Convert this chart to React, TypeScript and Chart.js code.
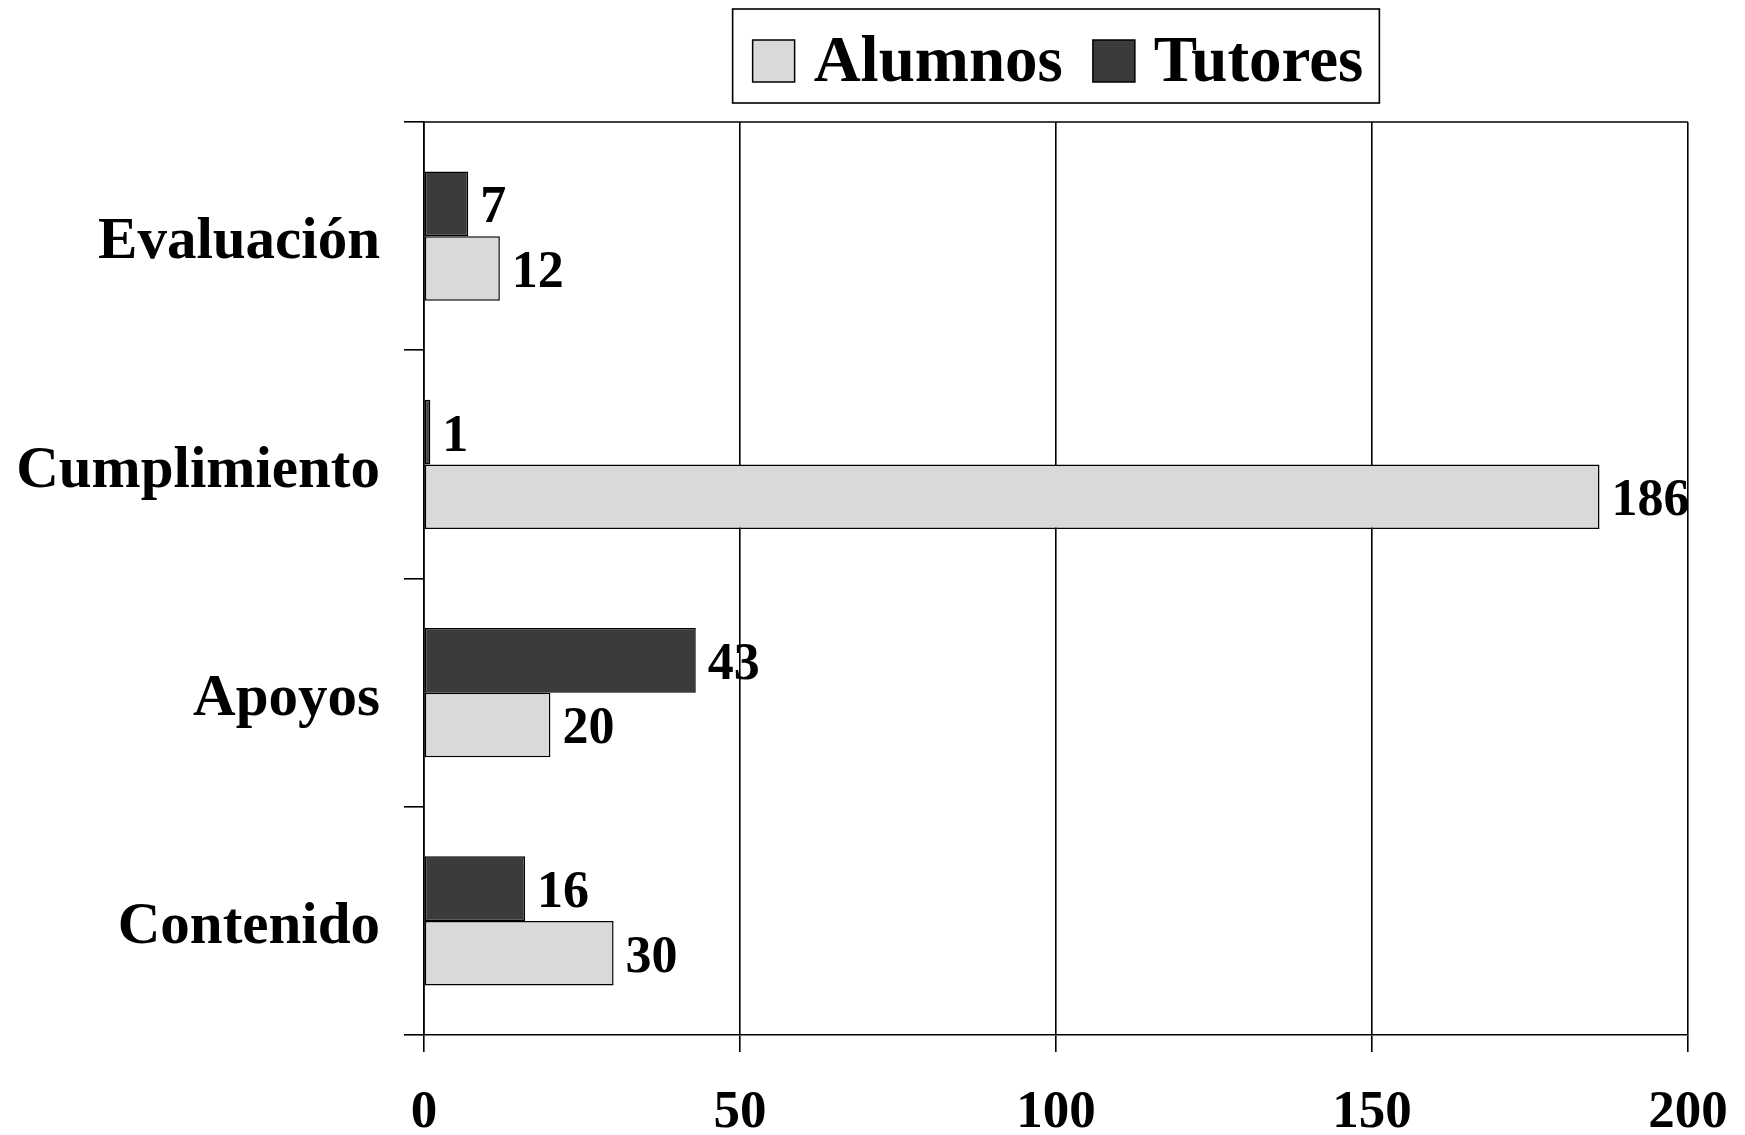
import React, { useEffect, useRef } from "react";
import { Chart, registerables } from "chart.js";
Chart.register(...registerables);

const categories = ["Evaluación", "Cumplimiento", "Apoyos", "Contenido"];
const alumnos = [12, 186, 20, 30];
const tutores = [7, 1, 43, 16];
const xMin = 0;
const xMax = 200;
const xStep = 50;
const legendOrder = ["Alumnos", "Tutores"];

const FONT = "'Liberation Serif', 'Times New Roman', serif";
const W = 1745;
const H = 1135;

const frameAndLabels = {
  id: "frameAndLabels",
  afterDraw(chart: any) {
    const ctx = chart.ctx;
    const ca = chart.chartArea;
    ctx.save();
    // top border
    ctx.strokeStyle = "#000";
    ctx.lineWidth = 1.6;
    ctx.beginPath();
    ctx.moveTo(ca.left, ca.top);
    ctx.lineTo(ca.right, ca.top);
    ctx.stroke();

    // data labels
    ctx.fillStyle = "#000";
    ctx.font = `bold 52px ${FONT}`;
    ctx.textAlign = "left";
    ctx.textBaseline = "middle";
    chart.data.datasets.forEach((ds: any, di: number) => {
      const meta = chart.getDatasetMeta(di);
      meta.data.forEach((el: any, i: number) => {
        ctx.fillText(String(ds.data[i]), el.x + 12, el.y + 5);
      });
    });

    // legend
    ctx.font = `bold 65px ${FONT}`;
    const sw = 42;
    const gapText = 19;
    const gapItem = 30;
    const items = legendOrder.map((name) => {
      const ds = chart.data.datasets.find((d: any) => d.label === name);
      return { name, color: ds.backgroundColor, w: ctx.measureText(name).width };
    });
    let content = 0;
    items.forEach((it, i) => {
      content += sw + gapText + it.w + (i < items.length - 1 ? gapItem : 0);
    });
    const boxW = content + 36;
    const cx = (ca.left + ca.right) / 2;
    const bx = cx - boxW / 2;
    const by = 9;
    const bh = 94;
    ctx.lineWidth = 1.6;
    ctx.strokeStyle = "#000";
    ctx.strokeRect(bx, by, boxW, bh);
    let x = bx + 20;
    const cy = by + bh / 2 + 5;
    items.forEach((it) => {
      ctx.fillStyle = it.color;
      ctx.fillRect(x, cy - sw / 2, sw, sw);
      ctx.lineWidth = 1.5;
      ctx.strokeRect(x, cy - sw / 2, sw, sw);
      ctx.fillStyle = "#000";
      ctx.textBaseline = "middle";
      ctx.fillText(it.name, x + sw + gapText, cy + 3);
      x += sw + gapText + it.w + gapItem;
    });
    ctx.restore();
  },
};

export default function App() {
  const ref = useRef<HTMLCanvasElement>(null);
  useEffect(() => {
    if (!ref.current) return;
    const chart = new Chart(ref.current, {
      type: "bar",
      data: {
        labels: categories,
        datasets: [
          {
            label: "Tutores",
            data: tutores,
            backgroundColor: "#3b3b3b",
            borderColor: "#000",
            borderWidth: 1.5,
            borderSkipped: false,
            categoryPercentage: 0.566,
            barPercentage: 1,
          },
          {
            label: "Alumnos",
            data: alumnos,
            backgroundColor: "#d9d9d9",
            borderColor: "#000",
            borderWidth: 1.5,
            borderSkipped: false,
            categoryPercentage: 0.566,
            barPercentage: 1,
          },
        ],
      },
      options: {
        indexAxis: "y",
        responsive: false,
        animation: false,
        layout: { padding: { top: 122, right: 57, left: 0, bottom: 0 } },
        plugins: {
          legend: { display: false },
          tooltip: { enabled: false },
        },
        scales: {
          x: {
            min: xMin,
            max: xMax,
            ticks: {
              stepSize: xStep,
              color: "#000",
              font: { family: FONT, size: 53, weight: "bold" },
              padding: 30,
            },
            grid: {
              color: "#000",
              lineWidth: 1.6,
              tickLength: 17,
              drawTicks: true,
            },
            border: { display: true, color: "#000", width: 1.6 },
            afterFit: (s: any) => {
              s.height = 100;
              s.paddingLeft = 0;
              s.paddingRight = 0;
            },
          },
          y: {
            ticks: {
              color: "#000",
              font: { family: FONT, size: 59, weight: "bold" },
              padding: 24,
              labelOffset: 7,
            },
            grid: {
              offset: true,
              drawOnChartArea: false,
              color: "#000",
              lineWidth: 1.6,
              tickLength: 20,
            },
            border: { display: true, color: "#000", width: 1.6 },
            afterFit: (s: any) => {
              s.width = 424;
              s.paddingTop = 0;
              s.paddingBottom = 0;
            },
          },
        },
      },
      plugins: [frameAndLabels],
    });
    return () => chart.destroy();
  }, []);
  return (
    <div style={{ position: "fixed", left: 0, top: 0, width: W, height: H, background: "#fff" }}>
      <canvas ref={ref} width={W} height={H} style={{ display: "block", width: W, height: H }} />
    </div>
  );
}
